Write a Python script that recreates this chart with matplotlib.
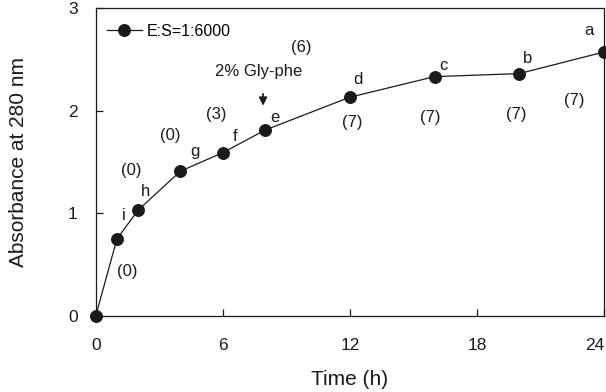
#!/usr/bin/env python3
"""Absorbance at 280 nm vs hydrolysis time, E:S=1:6000."""

import matplotlib
matplotlib.use("Agg")
import matplotlib.pyplot as plt
from matplotlib.transforms import ScaledTranslation

plt.rcParams['font.family'] = ['Liberation Sans', 'DejaVu Sans']

# data
time_h = [0, 1, 2, 4, 6, 8, 12, 16, 20, 24]
absorbance = [0.0, 0.75, 1.03, 1.41, 1.59, 1.81, 2.13, 2.33, 2.36, 2.57]

# sample letters and their positions (t, A)
letters = ['i', 'h', 'g', 'f', 'e', 'd', 'c', 'b', 'a']
letter_x = [1.32, 2.36, 4.7, 6.6, 8.45, 12.4, 16.4, 20.4, 23.3]
letter_y = [0.98, 1.21, 1.60, 1.75, 1.93, 2.30, 2.44, 2.51, 2.78]

# numbers in brackets and their positions
counts = ['(0)', '(0)', '(0)', '(3)', '(6)', '(7)', '(7)', '(7)', '(7)']
count_x = [1.5, 1.7, 3.5, 5.7, 9.7, 12.1, 15.8, 19.85, 22.6]
count_y = [0.43, 1.42, 1.76, 1.96, 2.61, 1.88, 1.93, 1.96, 2.10]

ink = '#1a1a1a'

fig = plt.figure(figsize=(6.06, 3.92), dpi=100)
ax = fig.add_axes([0.158, 0.194, 0.8387, 0.786])

ax.plot(time_h, absorbance, color=ink, lw=0.9, marker='o', ms=8.3,
        clip_on=False, zorder=3, label='E:S=1:6000')

for s, x, y in zip(letters, letter_x, letter_y):
    ax.text(x, y, s, fontsize=12, ha='center', va='center', color=ink)
for s, x, y in zip(counts, count_x, count_y):
    ax.text(x, y, s, fontsize=12, ha='center', va='center', color=ink)

# Gly-phe addition marker
ax.text(7.68, 2.38, '2% Gly-phe', fontsize=12, ha='center', va='center', color=ink)
ax.annotate('', xy=(7.9, 2.02), xytext=(7.9, 2.19),
            arrowprops=dict(arrowstyle='-|>', color=ink, lw=1.2,
                            mutation_scale=12))

ax.set_xlim(0, 24)
ax.set_ylim(0, 3)
ax.set_xticks([0, 6, 12, 18, 24])
ax.set_yticks([0, 1, 2, 3])
ax.tick_params(direction='in', length=5, width=0.9, labelsize=12.5,
               colors=ink)
ax.tick_params(axis='y', pad=13)
ax.tick_params(axis='x', pad=16)
for sp in ax.spines.values():
    sp.set_linewidth(0.9)
    sp.set_color(ink)

# last x label sits a bit left so it stays inside the figure
last = ax.get_xticklabels()[-1]
last.set_transform(last.get_transform() + ScaledTranslation(-7 / 72, 0, fig.dpi_scale_trans))

ax.set_xlabel('Time (h)', fontsize=15, color=ink, labelpad=12)
ax.set_ylabel('Absorbance at 280 nm', fontsize=15, color=ink)
ax.yaxis.set_label_coords(-0.134, 0.5)

ax.legend(loc='upper left', frameon=False, fontsize=11.5, handlelength=2.2,
          handletextpad=0.3, borderaxespad=0.3, bbox_to_anchor=(0.0, 0.985))

plt.savefig('out.png', dpi=100)
